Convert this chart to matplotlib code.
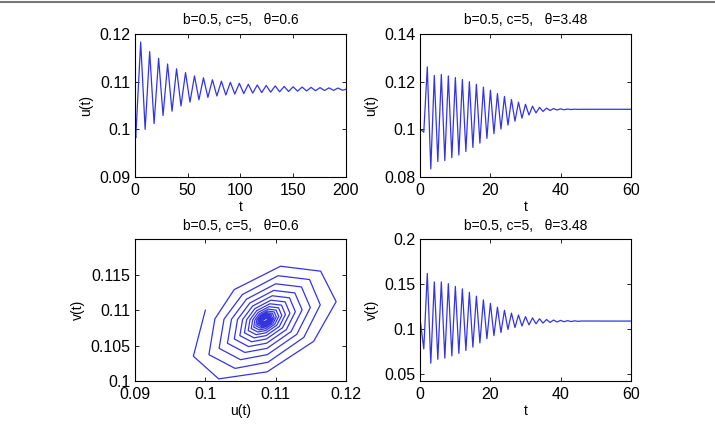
import matplotlib
matplotlib.use("Agg")
import matplotlib.pyplot as plt
from matplotlib.ticker import FormatStrFormatter
from matplotlib.lines import Line2D

plt.rcParams['font.family'] = ['Liberation Sans', 'DejaVu Sans']

# ---- data ----
# theta = 0.6 : u(t), peaks and troughs
t_a = [0, 0.7, 5.4, 9.6, 13.9, 18.1, 22.4, 26.6, 30.9, 35.1, 39.4, 43.6, 47.9, 52.1,
       56.4, 60.6, 64.9, 69.1, 73.4, 77.6, 81.9, 86.1, 90.4, 94.6, 98.9, 103.1,
       107.4, 111.6, 115.9, 120.1, 124.4, 128.6, 132.9, 137.1, 141.4, 145.6, 149.9,
       154.1, 158.4, 162.6, 166.9, 171.1, 175.4, 179.6, 183.9, 188.1, 192.4, 196.6, 200]
u_a = [0.1000, 0.0982, 0.1183, 0.1000, 0.1163, 0.1012, 0.1149, 0.1029, 0.1137, 0.1038,
       0.1127, 0.1049, 0.1119, 0.1057, 0.1112, 0.1062, 0.1108, 0.1067, 0.1104, 0.1070,
       0.1101, 0.1072, 0.10985, 0.1074, 0.10965, 0.1075, 0.10945, 0.1076, 0.1093, 0.1077,
       0.1092, 0.1078, 0.1091, 0.10787, 0.1090, 0.10794, 0.10892, 0.1080, 0.10886, 0.10805,
       0.1088, 0.1081, 0.10875, 0.10814, 0.1087, 0.10817, 0.10866, 0.1082, 0.1084]

# theta = 0.6 : phase portrait (u, v) vertices
u_ph = [0.1000, 0.0983, 0.1019, 0.1088, 0.1154, 0.1186, 0.1164, 0.1107, 0.1041,
        0.10136, 0.10051, 0.10423, 0.10890, 0.11401, 0.11634, 0.11482, 0.11034, 0.10526,
        0.10266, 0.10196, 0.10500, 0.10883, 0.11301, 0.11493, 0.11367, 0.11001, 0.10585,
        0.10372, 0.10314, 0.10563, 0.10877, 0.11219, 0.11376, 0.11273, 0.10973, 0.10633,
        0.10458, 0.10412, 0.10615, 0.10872, 0.11152, 0.11280, 0.11197, 0.10951, 0.10672,
        0.10530, 0.10491, 0.10658, 0.10868, 0.11097, 0.11203, 0.11134, 0.10933, 0.10705,
        0.10588, 0.10556, 0.10693, 0.10865, 0.11052, 0.11139, 0.11083, 0.10918, 0.10731,
        0.10635, 0.10610, 0.10721, 0.10862, 0.11016, 0.11087, 0.11041, 0.10906, 0.10752,
        0.10674, 0.10653, 0.10744, 0.10860, 0.10986, 0.11044, 0.11006, 0.10896, 0.10770,
        0.10706, 0.10688, 0.10764, 0.10858, 0.10961, 0.11009, 0.10978, 0.10887, 0.10784,
        0.10732, 0.10718, 0.10779, 0.10857, 0.10941, 0.10980, 0.10955, 0.10881, 0.10796,
        0.10753, 0.10742, 0.10792, 0.10855, 0.10925, 0.10956, 0.10936, 0.10875, 0.10806,
        0.10771, 0.10762, 0.10803, 0.10854, 0.10911, 0.10937, 0.10920, 0.10871, 0.10814,
        0.10785, 0.10778, 0.10811, 0.10854, 0.10900, 0.10921, 0.10907, 0.10867, 0.10821,
        0.10797, 0.10791, 0.10818, 0.10853, 0.10891, 0.10908, 0.10897, 0.10864, 0.10826,
        0.10807, 0.10802, 0.10824, 0.10852, 0.10884, 0.10898, 0.10889, 0.10861, 0.10830,
        0.10815, 0.10811, 0.10829, 0.10852, 0.10878, 0.10889, 0.10882, 0.10859, 0.10834,
        0.10821, 0.10818, 0.10833, 0.10851, 0.10873, 0.10882, 0.10876, 0.10857, 0.10837,
        0.10850]
v_ph = [0.1100, 0.1035, 0.1003, 0.1013, 0.1056, 0.1112, 0.1155, 0.1162, 0.1129,
        0.10877, 0.10372, 0.10178, 0.10265, 0.10616, 0.11075, 0.11432, 0.11486, 0.11220,
        0.10874, 0.10461, 0.10301, 0.10373, 0.10660, 0.11036, 0.11328, 0.11372, 0.11155,
        0.10872, 0.10533, 0.10403, 0.10461, 0.10697, 0.11004, 0.11243, 0.11279, 0.11101,
        0.10869, 0.10593, 0.10486, 0.10534, 0.10726, 0.10978, 0.11174, 0.11203, 0.11058,
        0.10868, 0.10641, 0.10554, 0.10593, 0.10751, 0.10957, 0.11117, 0.11141, 0.11022,
        0.10866, 0.10681, 0.10609, 0.10641, 0.10770, 0.10939, 0.11071, 0.11090, 0.10993,
        0.10865, 0.10713, 0.10654, 0.10681, 0.10787, 0.10925, 0.11033, 0.11049, 0.10969,
        0.10864, 0.10740, 0.10692, 0.10713, 0.10800, 0.10913, 0.11001, 0.11015, 0.10949,
        0.10863, 0.10761, 0.10722, 0.10739, 0.10811, 0.10904, 0.10976, 0.10987, 0.10933,
        0.10863, 0.10779, 0.10747, 0.10762, 0.10820, 0.10896, 0.10955, 0.10964, 0.10920,
        0.10862, 0.10794, 0.10767, 0.10779, 0.10827, 0.10889, 0.10938, 0.10945, 0.10909,
        0.10862, 0.10806, 0.10784, 0.10794, 0.10833, 0.10884, 0.10923, 0.10930, 0.10900,
        0.10862, 0.10816, 0.10798, 0.10806, 0.10838, 0.10880, 0.10912, 0.10917, 0.10893,
        0.10861, 0.10824, 0.10809, 0.10816, 0.10842, 0.10876, 0.10903, 0.10907, 0.10887,
        0.10861, 0.10830, 0.10818, 0.10824, 0.10845, 0.10873, 0.10895, 0.10898, 0.10882,
        0.10861, 0.10836, 0.10826, 0.10831, 0.10848, 0.10871, 0.10889, 0.10891, 0.10878,
        0.10861, 0.10840, 0.10832, 0.10836, 0.10850, 0.10869, 0.10884, 0.10885, 0.10875,
        0.10860]

# theta = 3.48 : u(t) and v(t), turning points
t_b = [0, 1, 2, 3, 4, 5, 6, 7, 8, 9, 10, 11, 12, 13, 14, 15, 16, 17, 18, 19, 20, 21, 22,
       23, 24, 25, 26, 27, 28, 29, 30, 31, 32, 33, 34, 35, 36, 37, 38, 39, 40, 41, 42,
       43, 44, 45, 46, 60]
u_b = [0.1000, 0.0988, 0.1262, 0.0834, 0.1226, 0.0865, 0.1230, 0.0869, 0.1224, 0.0881,
       0.1217, 0.0892, 0.1209, 0.0907, 0.1200, 0.0924, 0.1189, 0.0942, 0.1177, 0.0962,
       0.1164, 0.0982, 0.1150, 0.1001, 0.1138, 0.1018, 0.1125, 0.1034, 0.1114, 0.1047,
       0.1105, 0.1060, 0.1097, 0.1069, 0.1092, 0.1075, 0.1089, 0.1079, 0.1087, 0.1081,
       0.1086, 0.1082, 0.1085, 0.1083, 0.10845, 0.10835, 0.1084, 0.1084]
v_b = [0.1095, 0.0778, 0.1620, 0.0619, 0.1525, 0.0662, 0.1525, 0.0675, 0.1505, 0.0700,
       0.1475, 0.0728, 0.1447, 0.0760, 0.1409, 0.0798, 0.1366, 0.0845, 0.1325, 0.0892,
       0.1286, 0.0926, 0.1243, 0.0961, 0.1209, 0.0995, 0.1177, 0.1016, 0.1156, 0.1033,
       0.1138, 0.1046, 0.1124, 0.1058, 0.1114, 0.1066, 0.1106, 0.1073, 0.1100, 0.1078,
       0.1096, 0.1081, 0.1093, 0.1083, 0.1091, 0.1085, 0.1089, 0.1088]

line_col = '#3535e0'
tick_fs = 11.5
lab_fs = 10
title_fs = 10

fig = plt.figure(figsize=(7.15, 4.34), dpi=100)

# grey rule along the top of the picture
fig.add_artist(Line2D([0, 1], [0.995, 0.995], transform=fig.transFigure,
                      color='#777777', lw=1.5))

pos = {
    'tl': [0.1888, 0.5922, 0.2951, 0.3295],
    'tr': [0.5878, 0.5922, 0.2943, 0.3295],
    'bl': [0.1888, 0.1221, 0.2951, 0.3265],
    'br': [0.5878, 0.1221, 0.2943, 0.3265],
}


def style(ax, title, xlab, ylab):
    ax.set_title(title, fontsize=title_fs, pad=7)
    ax.set_xlabel(xlab, fontsize=lab_fs, labelpad=1)
    ax.set_ylabel(ylab, fontsize=lab_fs, labelpad=4)
    ax.tick_params(direction='in', top=True, right=True, labelsize=tick_fs,
                   length=3, width=0.6)
    ax.tick_params(axis='x', pad=4.5)
    ax.tick_params(axis='y', pad=3.5)
    for s in ax.spines.values():
        s.set_linewidth(0.8)
    ax.xaxis.set_major_formatter(FormatStrFormatter('%g'))
    ax.yaxis.set_major_formatter(FormatStrFormatter('%g'))


# top left
ax1 = fig.add_axes(pos['tl'])
ax1.plot(t_a, u_a, color=line_col, lw=0.9)
ax1.set_xlim(0, 200)
ax1.set_ylim(0.09, 0.12)
ax1.set_xticks([0, 50, 100, 150, 200])
ax1.set_yticks([0.09, 0.1, 0.11, 0.12])
style(ax1, 'b=0.5, c=5,   θ=0.6', 't', 'u(t)')

# top right
ax2 = fig.add_axes(pos['tr'])
ax2.plot(t_b, u_b, color=line_col, lw=0.9)
ax2.set_xlim(0, 60)
ax2.set_ylim(0.08, 0.14)
ax2.set_xticks([0, 20, 40, 60])
ax2.set_yticks([0.08, 0.1, 0.12, 0.14])
style(ax2, 'b=0.5, c=5,   θ=3.48', 't', 'u(t)')

# bottom left: phase portrait
ax3 = fig.add_axes(pos['bl'])
ax3.plot(u_ph, v_ph, color=line_col, lw=0.9)
ax3.set_xlim(0.09, 0.12)
ax3.set_ylim(0.1, 0.12)
ax3.set_xticks([0.09, 0.1, 0.11, 0.12])
ax3.set_yticks([0.1, 0.105, 0.11, 0.115])
style(ax3, 'b=0.5, c=5,   θ=0.6', 'u(t)', 'v(t)')

# bottom right
ax4 = fig.add_axes(pos['br'])
ax4.plot(t_b, v_b, color=line_col, lw=0.9)
ax4.set_xlim(0, 60)
ax4.set_ylim(0.042, 0.2)
ax4.set_xticks([0, 20, 40, 60])
ax4.set_yticks([0.05, 0.1, 0.15, 0.2])
style(ax4, 'b=0.5, c=5,   θ=3.48', 't', 'v(t)')

plt.savefig('out.png', dpi=100)
